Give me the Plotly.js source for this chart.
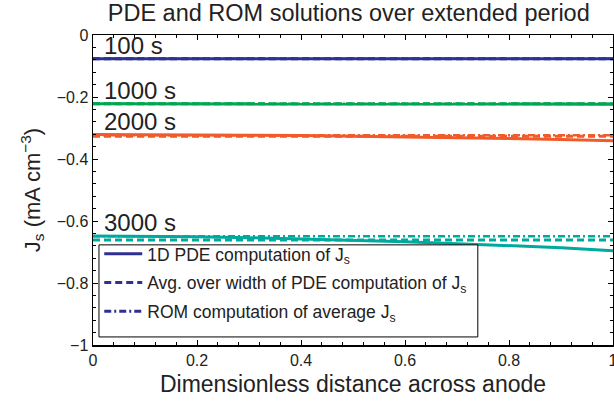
<!DOCTYPE html>
<html>
<head>
<meta charset="utf-8">
<script src="https://cdn.plot.ly/plotly-3.0.1.min.js"></script>
<style>html,body{margin:0;padding:0;background:#fff}#chart{width:614px;height:402px}</style>
</head>
<body>
<div id="chart"></div>
<script>
// ---- data ----
const xPos = [0, 0.1, 0.2, 0.3, 0.4, 0.5, 0.6, 0.7, 0.8, 0.9, 1.0];
const timeLabels = ["100 s", "1000 s", "2000 s", "3000 s"];
const colors = ["#2e3192", "#00a651", "#f15a29", "#00a99d"];
// 1D PDE computation of Js (solid)
const pde100  = [-0.077, -0.077, -0.077, -0.077, -0.077, -0.077, -0.077, -0.077, -0.077, -0.077, -0.077];
const pde1000 = [-0.222, -0.222, -0.222, -0.222, -0.222, -0.222, -0.222, -0.222, -0.223, -0.223, -0.223];
const pde2000 = [-0.321, -0.321, -0.322, -0.323, -0.324, -0.326, -0.328, -0.331, -0.334, -0.337, -0.341];
const pde3000 = [-0.648, -0.649, -0.651, -0.654, -0.658, -0.662, -0.667, -0.673, -0.679, -0.686, -0.696];
// Average over width of PDE (dashed) and ROM average (dash-dot)
const avgX = [0, 1];
const avgPDE = [-0.077, -0.222, -0.327, -0.661];
const romAvg = [-0.077, -0.222, -0.323, -0.649];
const legendNames = [
  "1D PDE computation of J<sub>s</sub>",
  "Avg. over width of PDE computation of J<sub>s</sub>",
  "ROM computation of average J<sub>s</sub>"
];

const pdeSeries = [pde100, pde1000, pde2000, pde3000];
const dashDash = "7px,4px";
const dashDot = "7px,3px,2px,3px";

const traces = [];
pdeSeries.forEach((ys, i) => {
  traces.push({x: xPos, y: ys, mode: "lines", line: {color: colors[i], width: 3}, showlegend: false, hoverinfo: "skip"});
  traces.push({x: avgX, y: [avgPDE[i], avgPDE[i]], mode: "lines", line: {color: colors[i], width: 3, dash: dashDash}, showlegend: false, hoverinfo: "skip"});
  traces.push({x: avgX, y: [romAvg[i], romAvg[i]], mode: "lines", line: {color: colors[i], width: 2.5, dash: dashDot}, showlegend: false, hoverinfo: "skip"});
});
// legend entries (blue samples)
const legDashes = ["solid", dashDash, dashDot];
legendNames.forEach((n, k) => {
  traces.push({x: [null], y: [null], mode: "lines", name: n, legendgroup: "g" + k,
               line: {color: colors[0], width: 3, dash: legDashes[k]}, showlegend: true});
});

const FONT = "Liberation Sans, Arial, sans-serif";
const annotations = timeLabels.map((t, i) => ({
  x: 0.018, y: pdeSeries[i][0], xref: "x", yref: "y", text: t, showarrow: false,
  xanchor: "left", yanchor: "bottom", yshift: -2,
  font: {family: FONT, size: 24, color: "#222"}
}));

const axisCommon = {
  showgrid: false, zeroline: false, showline: true, linecolor: "#000", linewidth: 1.5,
  mirror: "allticks", ticks: "inside", ticklen: 5, tickwidth: 1, tickcolor: "#000",
  ticklabeloverflow: "allow",
  tickfont: {family: FONT, size: 16, color: "#222"},
  minor: {dtick: 0.04, ticks: "inside", ticklen: 3, tickcolor: "#000", tickwidth: 1}
};

const layout = {
  width: 614, height: 402,
  margin: {l: 93, r: 1, t: 35, b: 57},
  paper_bgcolor: "#fff", plot_bgcolor: "#fff",
  font: {family: FONT, color: "#222"},
  title: {text: "PDE and ROM solutions over extended period", x: 0.568, xanchor: "center", y: 0.968, yanchor: "middle",
          font: {size: 23.5, color: "#222"}},
  xaxis: Object.assign({}, axisCommon, {
    range: [0, 1], tickvals: [0, 0.2, 0.4, 0.6, 0.8, 1], ticktext: ["0", "0.2", "0.4", "0.6", "0.8", "1"],
    title: {text: "Dimensionless distance across anode", font: {size: 23, color: "#222"}, standoff: 8}
  }),
  yaxis: Object.assign({}, axisCommon, {
    range: [-1, 0], tickvals: [-1, -0.8, -0.6, -0.4, -0.2, 0], ticktext: ["−1", "−0.8", "−0.6", "−0.4", "−0.2", "0"],
    title: {text: "J<sub>s</sub> (mA cm<sup>−3</sup>)", font: {size: 22, color: "#222"}, standoff: 10}
  }),
  shapes: [{
    type: "rect", xref: "paper", yref: "paper", x0: 0.0115, x1: 0.74, y0: 0.026, y1: 0.323,
    fillcolor: "#fff", line: {color: "#000", width: 1}, layer: "above"
  }],
  legend: {
    x: 0.012, y: 0.352, xanchor: "left", yanchor: "top",
    bgcolor: "rgba(0,0,0,0)", borderwidth: 0,
    font: {family: FONT, size: 17.5, color: "#222"},
    itemwidth: 38, tracegroupgap: 3, traceorder: "grouped"
  },
  annotations: annotations
};

Plotly.newPlot("chart", traces, layout, {displayModeBar: false, staticPlot: true});
</script>
</body>
</html>
